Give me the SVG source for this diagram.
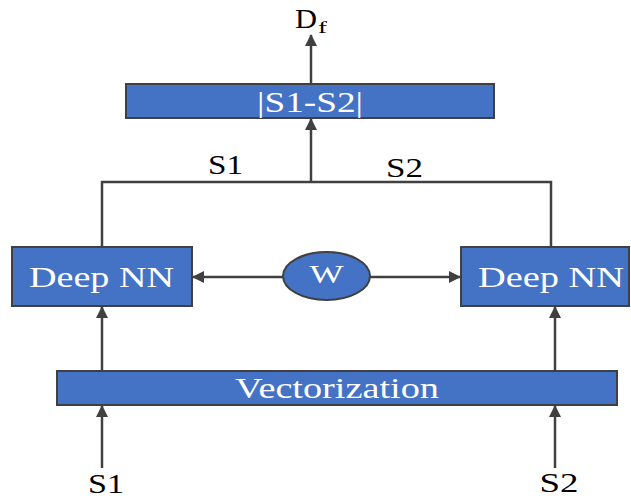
<svg xmlns="http://www.w3.org/2000/svg" width="631" height="500" viewBox="0 0 631 500">
<defs>
<marker id="ah" markerUnits="userSpaceOnUse" markerWidth="12" markerHeight="12" viewBox="0 0 12 12" refX="11" refY="6" orient="auto">
<path d="M0,0 L12,6 L0,12 Z" fill="#404040"/>
</marker>
<style>
.box{fill:#4472C4;stroke:#404040;stroke-width:2}
.lbl{font-family:"Liberation Serif","Times New Roman",serif;fill:#ffffff;text-anchor:middle}
.txt{font-family:"Liberation Serif","Times New Roman",serif;fill:#000000;text-anchor:middle}
.st{text-anchor:start}
.ln{fill:none;stroke:#404040;stroke-width:2.5}
.ar{fill:none;stroke:#404040;stroke-width:2.5;marker-end:url(#ah)}
</style>
</defs>
<rect width="631" height="500" fill="#ffffff"/>
<g id="connectors">
<line class="ar" x1="311" y1="84" x2="311" y2="35"/>
<line class="ar" x1="311" y1="182" x2="311" y2="119"/>
<polyline class="ln" points="102,247 102,182 551,182 551,247"/>
<line class="ar" x1="283" y1="277" x2="193" y2="277"/>
<line class="ar" x1="370" y1="277" x2="460" y2="277"/>
<line class="ar" x1="102" y1="371" x2="102" y2="307"/>
<line class="ar" x1="555" y1="371" x2="555" y2="307"/>
<line class="ar" x1="102" y1="468" x2="102" y2="406"/>
<line class="ar" x1="555" y1="468" x2="555" y2="406"/>
</g>
<g id="diff">
<rect class="box" x="126" y="84" width="368" height="34"/>
<text class="lbl" x="310" y="112" font-size="30" textLength="106" lengthAdjust="spacingAndGlyphs">|S1-S2|</text>
</g>
<g id="deepnn-left">
<rect class="box" x="12" y="247" width="180" height="59"/>
<text class="lbl" x="101.5" y="287" font-size="30" textLength="145" lengthAdjust="spacingAndGlyphs">Deep NN</text>
</g>
<g id="deepnn-right">
<rect class="box" x="461" y="247" width="168" height="59"/>
<text class="lbl" x="551" y="287" font-size="30" textLength="146" lengthAdjust="spacingAndGlyphs">Deep NN</text>
</g>
<g id="w">
<ellipse class="box" cx="326.5" cy="276" rx="43.5" ry="24"/>
<text class="lbl" x="326.5" y="283" font-size="25" textLength="34" lengthAdjust="spacingAndGlyphs">W</text>
</g>
<g id="vectorization">
<rect class="box" x="57" y="371" width="560" height="34"/>
<text class="lbl" x="337" y="398" font-size="30" textLength="204" lengthAdjust="spacingAndGlyphs">Vectorization</text>
</g>
<g id="df">
<text class="txt st" x="295" y="28" font-size="27" textLength="22" lengthAdjust="spacingAndGlyphs">D</text>
<text class="txt st" x="318" y="33" font-size="17" textLength="9" lengthAdjust="spacingAndGlyphs">f</text>
</g>
<g id="labels">
<text class="txt" x="225.5" y="174" font-size="27" textLength="35" lengthAdjust="spacingAndGlyphs">S1</text>
<text class="txt" x="404.5" y="177" font-size="27" textLength="37" lengthAdjust="spacingAndGlyphs">S2</text>
<text class="txt" x="106" y="493" font-size="27" textLength="36" lengthAdjust="spacingAndGlyphs">S1</text>
<text class="txt" x="559" y="492" font-size="27" textLength="39" lengthAdjust="spacingAndGlyphs">S2</text>
</g>
</svg>
